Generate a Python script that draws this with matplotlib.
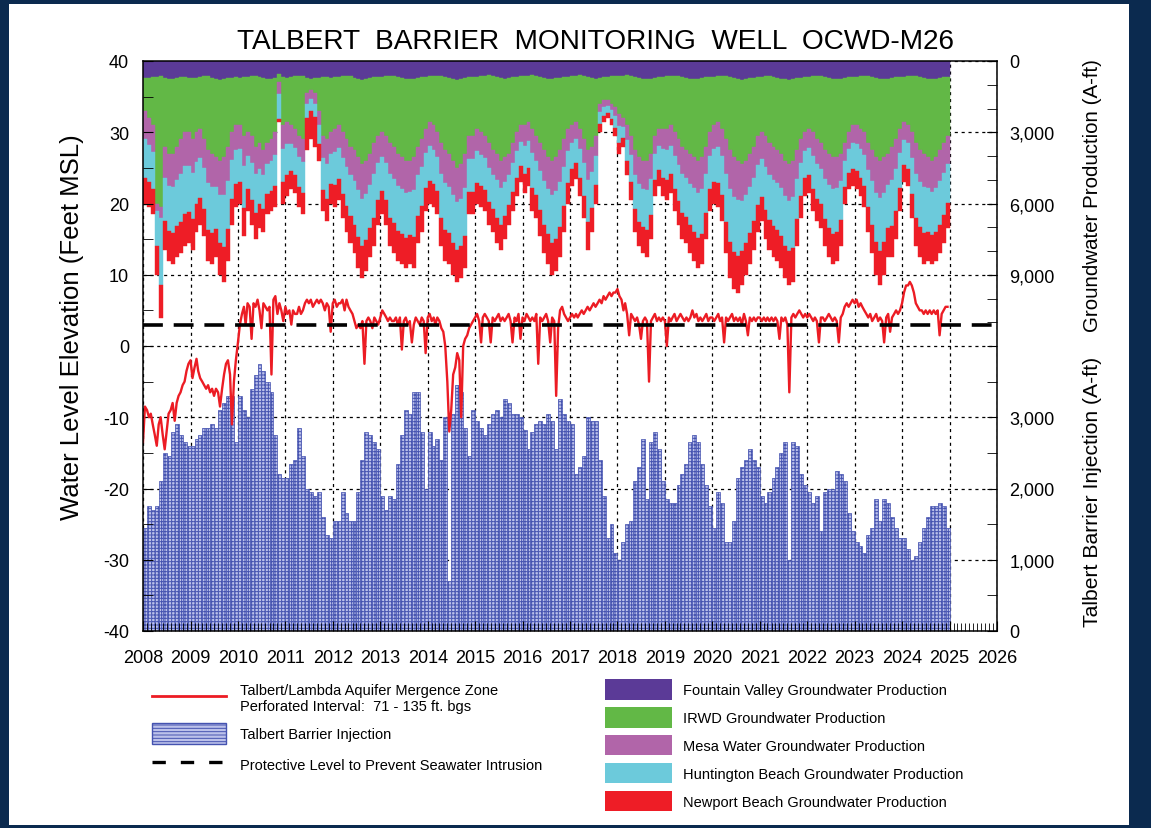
import datetime as dt
import matplotlib
matplotlib.use('Agg')
import matplotlib.pyplot as plt
import matplotlib.dates as mdates
from matplotlib.lines import Line2D
from matplotlib.patches import Patch, Rectangle
from matplotlib.ticker import FixedLocator, FuncFormatter
import numpy as np

plt.rcParams['font.family'] = ['Liberation Sans', 'DejaVu Sans']
plt.rcParams['hatch.linewidth'] = 0.7
plt.rcParams['axes.unicode_minus'] = False

years = list(range(2008, 2025))

# monthly groundwater production (A-ft), Jan 2008 - Dec 2024
fountain_valley = [
    700, 720, 690, 660, 650, 700, 740, 760, 720, 690, 680, 700,  # 2008
    720, 700, 680, 650, 640, 700, 750, 780, 760, 720, 700, 690,  # 2009
    700, 690, 660, 640, 630, 680, 720, 760, 740, 700, 560, 680,  # 2010
    700, 680, 650, 620, 640, 700, 740, 720, 700, 690, 680, 700,  # 2011
    680, 660, 640, 620, 650, 700, 760, 780, 740, 700, 690, 680,  # 2012
    670, 650, 630, 640, 680, 720, 760, 770, 740, 700, 680, 660,  # 2013
    650, 640, 620, 640, 690, 730, 770, 780, 750, 720, 690, 670,  # 2014
    660, 640, 620, 600, 630, 680, 720, 740, 720, 690, 670, 650,  # 2015
    640, 620, 610, 630, 670, 710, 750, 760, 730, 700, 680, 660,  # 2016
    650, 630, 610, 620, 660, 700, 740, 720, 690, 660, 650, 640,  # 2017
    630, 620, 610, 640, 690, 730, 760, 770, 740, 700, 680, 660,  # 2018
    650, 630, 620, 640, 680, 720, 760, 770, 740, 710, 690, 670,  # 2019
    660, 640, 630, 650, 690, 730, 770, 780, 750, 720, 700, 680,  # 2020
    670, 650, 640, 660, 700, 740, 770, 780, 750, 720, 700, 680,  # 2021
    660, 640, 630, 650, 690, 730, 760, 770, 740, 710, 690, 670,  # 2022
    660, 640, 620, 640, 680, 720, 760, 770, 750, 720, 690, 670,  # 2023
    660, 640, 630, 650, 690, 730, 760, 770, 740, 710, 690, 680,  # 2024
]
irwd = [
    1400, 1680, 2010, 5340, 5500, 2900, 3160, 3140, 2880, 2610, 2320, 2300,
    2580, 2300, 2170, 2650, 3110, 3200, 3300, 3420, 3290, 2880, 2300, 2010,
    2000, 2460, 2340, 2510, 2970, 2770, 3030, 2690, 2560, 2300, 340, 2020,
    1850, 2020, 2200, 2530, 2660, 650, 460, 630, 1400, 2460, 2620, 2300,
    2170, 2040, 2360, 2680, 2950, 3050, 3290, 3570, 3460, 3200, 2760, 2470,
    2330, 2500, 2820, 2960, 3220, 3330, 3440, 3430, 3310, 2900, 2620, 2190,
    1900, 2060, 2380, 2810, 3060, 3170, 3430, 3720, 3600, 3180, 2460, 2480,
    2190, 2360, 2530, 2850, 3120, 3220, 3480, 3310, 3180, 2760, 2330, 2050,
    2060, 1930, 2240, 2520, 2780, 3040, 3300, 3440, 3320, 3050, 2620, 2190,
    2050, 1920, 2240, 2680, 3090, 2900, 2410, 1080, 960, 990, 1150, 1310,
    1620, 1780, 2090, 2510, 3060, 3320, 3440, 3430, 3160, 2450, 2170, 2190,
    2200, 2070, 2380, 2660, 2920, 3030, 3140, 3280, 3460, 3340, 2910, 2330,
    2040, 1910, 2220, 2650, 3060, 3320, 3430, 3570, 3450, 3180, 2900, 2470,
    2330, 2500, 2810, 2940, 3050, 3160, 3430, 3570, 3450, 3030, 2600, 2320,
    2190, 2360, 2670, 2800, 3060, 3170, 3290, 3280, 3160, 2740, 2310, 2030,
    2040, 2210, 2380, 2810, 3070, 3330, 3440, 3280, 3150, 2880, 2610, 2180,
    1890, 2060, 2370, 2800, 3060, 3170, 3290, 3430, 3310, 3040, 2760, 2470,
]
mesa_water = [
    1170, 1130, 1130, 300, 450, 1310, 1350, 1400, 1400, 1440, 1440, 1400,
    1400, 1260, 1220, 1220, 1400, 1400, 1260, 1440, 1580, 1440, 1170, 1040,
    990, 1260, 990, 1130, 1170, 1080, 1040, 900, 900, 950, 500, 990,
    950, 810, 810, 900, 950, 450, 400, 450, 600, 950, 1040, 900,
    990, 950, 1080, 1170, 1220, 1310, 1400, 1440, 1400, 1310, 1310, 1130,
    1040, 1130, 1310, 1350, 1350, 1350, 1350, 1310, 1400, 1220, 1170, 1040,
    1040, 1040, 1040, 1310, 1400, 1400, 1440, 1440, 1440, 1440, 990, 990,
    950, 950, 950, 1040, 1040, 1130, 1130, 1040, 900, 860, 810, 720,
    860, 810, 1040, 1040, 1170, 1310, 1350, 1440, 1440, 1350, 1170, 950,
    770, 720, 860, 990, 1260, 1080, 860, 360, 270, 230, 270, 360,
    500, 360, 630, 810, 1040, 1130, 1170, 1220, 1080, 770, 720, 860,
    900, 860, 990, 1080, 1170, 1170, 1260, 1310, 1350, 1350, 1170, 990,
    990, 1080, 1170, 1440, 1620, 1670, 1670, 1530, 1440, 1400, 1310, 1220,
    1130, 1310, 1350, 1400, 1400, 1440, 1490, 1530, 1530, 1220, 990, 810,
    810, 990, 1040, 1080, 1220, 1310, 1350, 1310, 1170, 770, 720, 770,
    810, 860, 950, 1130, 1310, 1490, 1580, 1490, 1310, 1400, 1260, 1040,
    770, 770, 1080, 1310, 1350, 1400, 1310, 1310, 1310, 1310, 1260, 1170,
]
huntington_beach = [
    1640, 1580, 1580, 1500, 2850, 1830, 1890, 1950, 1950, 2020, 2020, 1950,
    1950, 1760, 1700, 1700, 1950, 1950, 1760, 2020, 2210, 2020, 1640, 1450,
    1390, 1760, 1390, 1580, 1640, 1510, 1450, 1260, 1260, 1320, 1050, 1390,
    1320, 1130, 1130, 1260, 1320, 600, 500, 550, 800, 1320, 1450, 1260,
    1390, 1320, 1510, 1640, 1700, 1830, 1950, 2020, 1950, 1830, 1830, 1580,
    1450, 1580, 1830, 1890, 1890, 1890, 1890, 1830, 1950, 1700, 1640, 1450,
    1450, 1450, 1450, 1830, 1950, 1950, 2020, 2020, 2020, 2020, 1390, 1390,
    1320, 1320, 1320, 1450, 1450, 1580, 1580, 1450, 1260, 1200, 1130, 1010,
    1200, 1130, 1450, 1450, 1640, 1830, 1890, 2020, 2020, 1890, 1640, 1320,
    1070, 1010, 1200, 1390, 1760, 1510, 1200, 500, 380, 320, 380, 500,
    690, 500, 880, 1130, 1450, 1580, 1640, 1700, 1510, 1070, 1010, 1200,
    1260, 1200, 1390, 1510, 1640, 1640, 1760, 1830, 1890, 1890, 1640, 1390,
    1390, 1510, 1640, 2020, 2270, 2330, 2330, 2140, 2020, 1950, 1830, 1700,
    1580, 1830, 1890, 1950, 1950, 2020, 2080, 2140, 2140, 1700, 1390, 1130,
    1130, 1390, 1450, 1510, 1700, 1830, 1890, 1830, 1640, 1070, 1010, 1070,
    1130, 1200, 1320, 1580, 1830, 2080, 2210, 2080, 1830, 1950, 1760, 1450,
    1070, 1070, 1510, 1830, 1890, 1950, 1830, 1830, 1830, 1830, 1760, 1640,
]
newport_beach = [
    1090, 1040, 1040, 1200, 1350, 1210, 1260, 1300, 1300, 1340, 1340, 1300,
    1300, 1180, 1130, 1130, 1300, 1300, 1180, 1340, 1460, 1340, 1090, 960,
    920, 1180, 920, 1040, 1090, 1010, 960, 840, 840, 880, 100, 920,
    880, 760, 760, 840, 880, 1350, 1200, 1250, 700, 880, 960, 840,
    920, 880, 1010, 1090, 1130, 1210, 1300, 1340, 1300, 1210, 1210, 1040,
    960, 1040, 1210, 1260, 1260, 1260, 1260, 1210, 1300, 1130, 1090, 960,
    960, 960, 960, 1210, 1300, 1300, 1340, 1340, 1340, 1340, 920, 920,
    880, 880, 880, 960, 960, 1040, 1040, 960, 840, 790, 760, 670,
    790, 760, 960, 960, 1090, 1210, 1260, 1340, 1340, 1260, 1090, 880,
    710, 670, 790, 920, 1180, 1010, 790, 340, 250, 200, 250, 340,
    460, 340, 590, 760, 960, 1040, 1090, 1130, 1010, 710, 670, 790,
    840, 790, 920, 1010, 1090, 1090, 1180, 1210, 1260, 1260, 1090, 920,
    920, 1010, 1090, 1340, 1510, 1550, 1550, 1430, 1340, 1300, 1210, 1130,
    1040, 1210, 1260, 1300, 1300, 1340, 1380, 1430, 1430, 1130, 920, 760,
    760, 920, 960, 1010, 1130, 1210, 1260, 1210, 1090, 710, 670, 710,
    760, 790, 880, 1040, 1210, 1380, 1460, 1380, 1210, 1300, 1180, 960,
    710, 710, 1010, 1210, 1260, 1300, 1210, 1210, 1210, 1210, 1180, 1090,
]

# monthly Talbert Barrier injection (A-ft)
injection = [
    1450, 1750, 1700, 1750, 2100, 2500, 2450, 2800, 2900, 2750, 2650, 2600,  # 2008
    2600, 2700, 2750, 2850, 2850, 2900, 2850, 3100, 3200, 3300, 3300, 2650,  # 2009
    3300, 3100, 3000, 3400, 3600, 3750, 3650, 3500, 3350, 2750, 2200, 2150,  # 2010
    2150, 2350, 2400, 2850, 2450, 2000, 1950, 1900, 1950, 1600, 1350, 1300,  # 2011
    1550, 1550, 1950, 1650, 1550, 1550, 1950, 2400, 2800, 2750, 2650, 2550,  # 2012
    1900, 1700, 1900, 1850, 2350, 2750, 3100, 3050, 3350, 3350, 2800, 2000,  # 2013
    2800, 2600, 2700, 2400, 3000, 700, 3050, 3450, 3350, 2850, 2450, 3100,  # 2014
    2950, 2850, 2750, 2900, 3050, 3100, 3000, 3250, 3200, 3050, 3050, 3000,  # 2015
    2820, 2550, 2800, 2900, 2950, 2900, 3050, 2950, 2550, 3250, 3050, 2950,  # 2016
    2900, 2200, 2300, 2450, 3000, 2950, 2950, 2400, 1900, 1300, 1500, 1100,  # 2017
    1000, 1250, 1500, 1550, 2100, 2300, 2700, 1850, 2650, 2800, 2550, 2100,  # 2018
    1850, 1800, 1800, 2050, 2200, 2350, 2650, 2750, 2650, 2350, 2050, 1750,  # 2019
    1450, 1950, 1800, 1250, 1250, 1550, 2150, 2300, 2400, 2550, 2400, 2300,  # 2020
    1900, 1800, 1950, 2150, 2300, 2500, 2650, 1000, 2650, 2600, 2200, 2050,  # 2021
    1950, 1800, 1900, 1400, 1950, 2000, 2000, 2250, 2200, 2100, 1650, 1400,  # 2022
    1250, 1200, 1100, 1350, 1450, 1850, 1550, 1850, 1800, 1600, 1450, 1300,  # 2023
    1300, 1150, 1000, 1050, 1250, 1450, 1600, 1750, 1750, 1800, 1750, 1450,  # 2024
]

# water level in OCWD-M26, feet MSL, 1st and 16th of each month
water_level = [
    -13.5, -8.5, -9, -10, -9.5, -11, -12.5, -14, -11, -10, -12.5, -14.5,
    -12, -9.5, -9, -8, -10.5, -8, -7, -6.5, -5.5, -5, -3.5, -2.5,  # 2008
    -2, -4.5, -3, -1.8, -3.5, -4.5, -5, -5.5, -6, -5.5, -6.5, -6,
    -7, -6, -6.5, -8.5, -6, -4, -2.5, -2, -4, -11, -5, -2,  # 2009
    0.5, 3, 4.5, 5.5, 3, 6, 5.5, 1, 6, 5.5, 6.5, 5,
    2.5, 6, 5.5, 5, 5.5, -4, 6.5, 7, 4.5, 6, 5, 3.5,  # 2010
    5.5, 4.5, 5, 3, 5, 4.5, 4.5, 5.5, 4.5, 5, 6, 6.5,
    6, 6.5, 5.5, 6, 6.5, 6, 6.5, 6, 5, 6, 5.5, 2,  # 2011
    6, 6.5, 5.5, 6, 6, 6.5, 5, 6.5, 5.5, 5, 4.5, 3.5,
    2.5, 3, 2.5, 3.5, -2.5, 3.5, 4, 3.5, 2.5, 4, 3.5, 3,  # 2012
    4, 5, 4.5, 4, 3.5, 4, 3.5, 3.5, 4, 3, 4, -0.5,
    3.5, 4, 3, 3.5, 0.5, 3, 4, 3.5, 3, 4, 3.5, -1,  # 2013
    4, 4.5, 3.5, 4, 3, 4, 3.5, 2.5, 2, 0, -5, -12,
    -9, -4, -3, -1, -2, -10, 0, 1, 1.5, 2.5, 3, 3.5,  # 2014
    4, 4.5, 3.5, 0.5, 4, 4.5, 4, 3.5, 0.5, 4, 3.5, 4,
    4.5, 3.5, 4, 3.5, 4, 4.5, 3.5, 0.5, 4, 3.5, 4.5, 1,  # 2015
    4, 3.5, 4.5, 4, 3.5, 4, 3.5, 4.5, -2.5, 4, 3.5, 4,
    4.5, 3.5, 0.5, 4, 3.5, -7, 2.5, 5, 5.5, 4.5, 4, 3.5,  # 2016
    4, 4.5, 4, 4.5, 4, 4.5, 5, 4.5, 5, 5.5, 5, 5.5,
    6, 5.5, 6, 6.5, 6, 7, 6.5, 7, 7.5, 7, 7.5, 7.5,  # 2017
    8, 7, 6.5, 5, 6, 4.5, 1.5, 4.5, 4, 3.5, 4, 3,
    1, 3.5, 4, 3.5, -5, 3.5, 4, 4.5, 3.5, 4, 3.5, 4,  # 2018
    3.5, 0, 4, 3.5, 4, 4.5, 3.5, 4, 4.5, 4, 3.5, 4,
    3.5, 4, 5, 4, 4.5, 3.5, 4, 3.5, 4, 4.5, 3.5, 4,  # 2019
    4, 3.5, 4, 4.5, 3.5, 4, 0.5, 4, 3.5, 4, 4.5, 3.5,
    4, 3.5, 4, 3, 4.5, 3.5, 1.5, 4, 3.5, 4, 3.5, 4,  # 2020
    4, 3.5, 4, 3.5, 4, 3.5, 4, 3.5, 4, 3.5, 1, 4,
    3.5, 4, 3, -6.5, 4, 4.5, 4, 4.5, 5, 4.5, 4, 4.5,  # 2021
    4, 4.5, 4, 3.5, 4, 3.5, 0.5, 4, 4, 3.5, 4, 4.5,
    4, 3.5, 4, 3.5, 0.5, 4, 4.5, 5.5, 6, 5.5, 6, 6.5,  # 2022
    6, 6.5, 5.5, 6, 5.5, 5, 4.5, 4, 4.5, 3.5, 4, 4.5,
    3.5, 4, 3.5, 0.5, 4, 4.5, 2, 4, 4.5, 5, 4.5, 5,  # 2023
    6, 7.5, 8.5, 8.5, 9, 8.5, 7.5, 6, 5.5, 5, 5, 4.5,
    5, 4.5, 5, 4.5, 5, 4.5, 5, 1.5, 4.5, 5, 5.5, 5.5,  # 2024
]
protective_level = 3.0

prod_names = ['Fountain Valley Groundwater Production', 'IRWD Groundwater Production',
              'Mesa Water Groundwater Production', 'Huntington Beach Groundwater Production',
              'Newport Beach Groundwater Production']
prod_colors = ['#5b3a97', '#62b846', '#b165a9', '#6ccadb', '#ee1d26']
inj_face = '#bcc1ea'
inj_edge = '#4553b0'

month_start = [dt.date(y, m, 1) for y in years for m in range(1, 13)]
month_end = month_start[1:] + [dt.date(2025, 1, 1)]
widths = [(b - a).days for a, b in zip(month_start, month_end)]
wl_dates = [dt.date(y, m, d) for y in years for m in range(1, 13) for d in (1, 16)]

fig = plt.figure(figsize=(11.51, 8.29), dpi=100, facecolor='#0b2a4f')
fig.add_artist(Rectangle((9 / 1151, 3 / 829), 1120 / 1151, 821 / 829,
                         transform=fig.transFigure, facecolor='white',
                         edgecolor='none', zorder=-5))

ax = fig.add_axes([143 / 1151, 1 - 632 / 829, 854 / 1151, 570 / 829])
axi = ax.twinx()
axp = ax.twinx()
axi.set_zorder(1)
axp.set_zorder(2)
ax.set_zorder(3)
ax.patch.set_visible(False)

# injection bars (bottom layer), grid underneath
axi.bar(month_start, injection, width=widths, align='edge',
        facecolor=inj_face, edgecolor=inj_edge, hatch='+++++', linewidth=0.5)
axi.set_ylim(0, 8000)
axi.yaxis.set_major_locator(FixedLocator(range(0, 8001, 1000)))
axi.yaxis.set_minor_locator(FixedLocator([500, 1500, 2500, 3500]))
axi.yaxis.set_major_formatter(FuncFormatter(lambda v, p: f'{v:,.0f}' if v <= 3000 else ''))
axi.xaxis.set_visible(True)
axi.tick_params(axis='x', which='both', bottom=False, top=False, labelbottom=False)
axi.set_axisbelow(True)
axi.grid(True, which='major', color='black', linestyle=(0, (2.5, 3)), linewidth=0.9)
axi.tick_params(axis='y', which='both', direction='in', labelsize=13, pad=9, length=7)

# stacked production bars hanging from the top
axp.set_ylim(24000, 0)
bottom = np.zeros(len(month_start))
for vals, col in zip([fountain_valley, irwd, mesa_water, huntington_beach, newport_beach], prod_colors):
    axp.bar(month_start, vals, width=widths, bottom=bottom, align='edge',
            color=col, edgecolor=col, linewidth=0.3)
    bottom += np.array(vals)
axp.yaxis.set_major_locator(FixedLocator([0, 3000, 6000, 9000]))
axp.yaxis.set_minor_locator(FixedLocator([1000, 2000, 4000, 5000, 7000, 8000, 10000, 11000]))
axp.yaxis.set_major_formatter(FuncFormatter(lambda v, p: f'{v:,.0f}'))
axp.tick_params(axis='y', which='both', direction='in', labelsize=13, pad=9, length=7)

for a in (axi, axp):
    for s in a.spines.values():
        s.set_visible(False)

# water level and protective level
ax.plot(wl_dates, water_level, color='#ec1c24', linewidth=1.7)
ax.axhline(protective_level, color='black', linewidth=2.6, dashes=(5.5, 3.0))
ax.set_ylim(-40, 40)
ax.set_xlim(dt.date(2008, 1, 1), dt.date(2026, 1, 1))
ax.set_yticks(range(-40, 41, 10))
ax.set_yticks(range(-35, 40, 10), minor=True)
ax.xaxis.set_major_locator(mdates.YearLocator())
ax.xaxis.set_minor_locator(mdates.MonthLocator())
ax.xaxis.set_major_formatter(mdates.DateFormatter('%Y'))
ax.tick_params(which='both', direction='in', labelsize=13, top=False)
ax.tick_params(axis='y', which='both', length=7, pad=10)
ax.tick_params(axis='x', which='major', length=7, pad=13)
ax.tick_params(axis='x', which='minor', length=6)
for s in ax.spines.values():
    s.set_linewidth(1.1)

fig.text(0.517, 0.949, 'TALBERT  BARRIER  MONITORING  WELL  OCWD-M26',
         ha='center', va='center', fontsize=20.2)
fig.text(72 / 1151, 1 - 327 / 829, 'Water Level Elevation (Feet MSL)',
         rotation=90, ha='center', va='center', fontsize=18.5)
fig.text(1093 / 1151, 1 - 196 / 829, 'Groundwater Production (A-ft)',
         rotation=90, ha='center', va='center', fontsize=14.8)
fig.text(1093 / 1151, 1 - 492 / 829, 'Talbert Barrier Injection (A-ft)',
         rotation=90, ha='center', va='center', fontsize=15.2)

left_handles = [
    Line2D([], [], color='#ec1c24', linewidth=2),
    Patch(facecolor=inj_face, edgecolor=inj_edge, hatch='-----', linewidth=1),
    Line2D([], [], color='black', linewidth=2.4, dashes=(4, 4.5)),
]
left_labels = ['Talbert/Lambda Aquifer Mergence Zone\nPerforated Interval:  71 - 135 ft. bgs',
               'Talbert Barrier Injection',
               'Protective Level to Prevent Seawater Intrusion']
fig.legend(left_handles, left_labels, loc='upper left',
           bbox_to_anchor=(152 / 1151, 1 - 684 / 829), frameon=False,
           fontsize=10.5, handlelength=5.1, handleheight=1.8,
           handletextpad=0.95, labelspacing=0.7, borderpad=0, borderaxespad=0)

right_handles = [Patch(facecolor=c, edgecolor='none') for c in prod_colors]
fig.legend(right_handles, prod_names, loc='upper left',
           bbox_to_anchor=(605 / 1151, 1 - 680 / 829), frameon=False,
           fontsize=10.5, handlelength=4.6, handleheight=1.8,
           handletextpad=0.75, labelspacing=0.5, borderpad=0, borderaxespad=0)

fig.savefig('out.png', dpi=100, facecolor=fig.get_facecolor())
